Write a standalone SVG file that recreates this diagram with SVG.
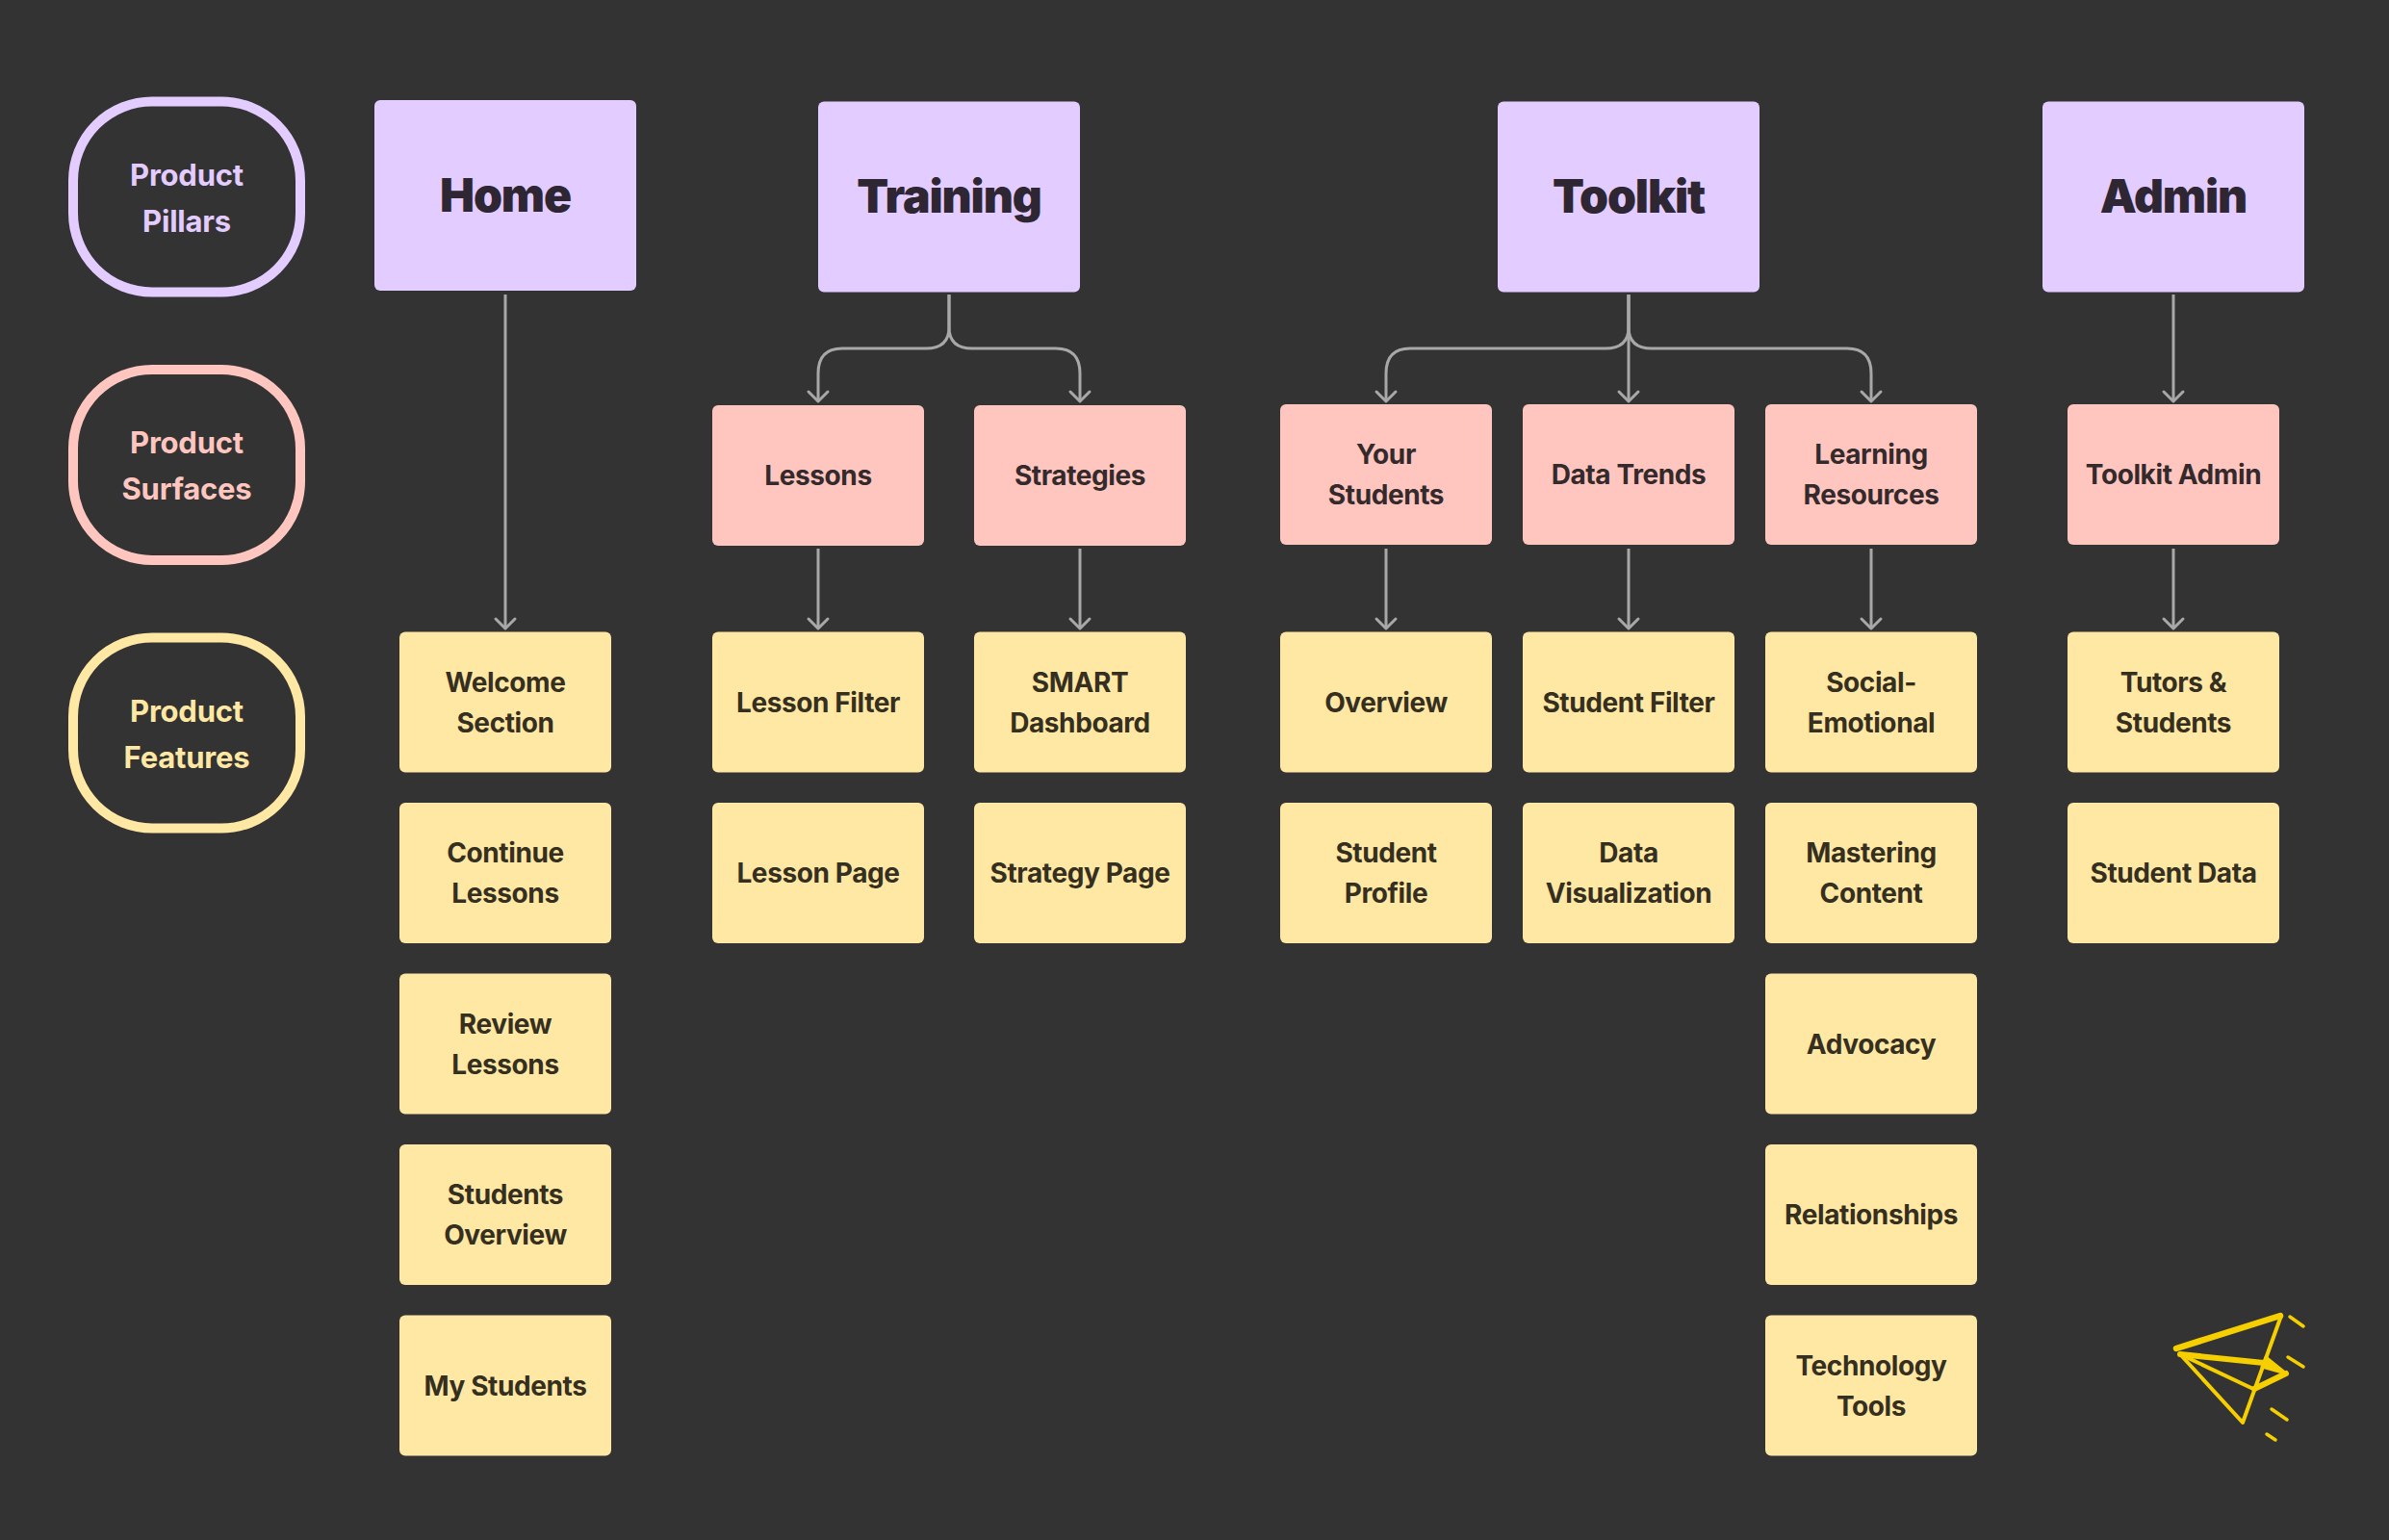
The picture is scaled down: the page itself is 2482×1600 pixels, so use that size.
<svg xmlns="http://www.w3.org/2000/svg" width="2482" height="1600" viewBox="0 0 2482 1600">
<style>
text{font-family:"Inter","Liberation Sans",sans-serif;text-anchor:middle;font-weight:650}
.t{font-size:28px;letter-spacing:-.4px}
.h{font-size:48px;font-weight:900;letter-spacing:-1.1px;fill:#2e2733}
.py{fill:#e3ccff}.pk{fill:#ffc6c0}.ye{fill:#ffe8a3}
.pill{fill:none;stroke-width:10}
.lg{font-size:31px;letter-spacing:-.2px}
.tk{fill:#352a2b}.ty{fill:#352f1f}
.c{fill:none;stroke:#a8a8a8;stroke-width:3;marker-end:url(#a)}
.pl{fill:none;stroke:#f5cf00;stroke-linecap:round;stroke-linejoin:round}
</style>
<defs>
<marker id="a" markerUnits="userSpaceOnUse" markerWidth="16" markerHeight="26" refX="13" refY="13" orient="auto" viewBox="0 0 16 26"><path d="M3 3L13 13L3 23" fill="none" stroke="#a8a8a8" stroke-width="3" stroke-linecap="round" stroke-linejoin="round"/></marker>
</defs>
<rect width="2482" height="1600" fill="#333333"/>
<g id="connectors">
<path class="c" d="M525 306V653"/>
<path class="c" d="M986 306V340Q986 362 962 362H875Q850 362 850 388V417"/>
<path class="c" d="M986 306V340Q986 362 1010 362H1097Q1122 362 1122 388V417"/>
<path class="c" d="M1692 306V340Q1692 362 1668 362H1465Q1440 362 1440 388V417"/>
<path class="c" d="M1692 306V417"/>
<path class="c" d="M1692 306V340Q1692 362 1716 362H1919Q1944 362 1944 388V417"/>
<path class="c" d="M2258 306V417"/>
<path class="c" d="M850 570V653"/>
<path class="c" d="M1122 570V653"/>
<path class="c" d="M1440 570V653"/>
<path class="c" d="M1692 570V653"/>
<path class="c" d="M1944 570V653"/>
<path class="c" d="M2258 570V653"/>
</g>
<g id="legend-pillars"><rect class="pill" x="76" y="105.5" width="236" height="198" rx="82" stroke="#e3ccff"/><text class="lg py" x="194" y="193">Product</text><text class="lg py" x="194" y="241">Pillars</text></g>
<g id="legend-surfaces"><rect class="pill" x="76" y="384" width="236" height="198" rx="82" stroke="#ffc6c0"/><text class="lg pk" x="194" y="471">Product</text><text class="lg pk" x="194" y="519">Surfaces</text></g>
<g id="legend-features"><rect class="pill" x="76" y="662.5" width="236" height="198" rx="82" stroke="#ffe8a3"/><text class="lg ye" x="194" y="750">Product</text><text class="lg ye" x="194" y="798">Features</text></g>

<g id="home"><rect class="py" x="389" y="104" width="272" height="198" rx="6"/><text class="h" x="525" y="220">Home</text></g>
<g id="training"><rect class="py" x="850" y="105.5" width="272" height="198" rx="6"/><text class="h" x="986" y="221">Training</text></g>
<g id="toolkit"><rect class="py" x="1556" y="105.5" width="272" height="198" rx="6"/><text class="h" x="1692" y="221">Toolkit</text></g>
<g id="admin"><rect class="py" x="2122" y="105.5" width="272" height="198" rx="6"/><text class="h" x="2258" y="221">Admin</text></g>

<g id="lessons"><rect class="pk" x="740" y="421" width="220" height="146" rx="6"/><text class="t tk" x="850" y="504">Lessons</text></g>
<g id="strategies"><rect class="pk" x="1012" y="421" width="220" height="146" rx="6"/><text class="t tk" x="1122" y="504">Strategies</text></g>
<g id="your-students"><rect class="pk" x="1330" y="420" width="220" height="146" rx="6"/><text class="t tk" x="1440" y="482">Your</text><text class="t tk" x="1440" y="524">Students</text></g>
<g id="data-trends"><rect class="pk" x="1582" y="420" width="220" height="146" rx="6"/><text class="t tk" x="1692" y="503">Data Trends</text></g>
<g id="learning-resources"><rect class="pk" x="1834" y="420" width="220" height="146" rx="6"/><text class="t tk" x="1944" y="482">Learning</text><text class="t tk" x="1944" y="524">Resources</text></g>
<g id="toolkit-admin"><rect class="pk" x="2148" y="420" width="220" height="146" rx="6"/><text class="t tk" x="2258" y="503">Toolkit Admin</text></g>

<g id="welcome"><rect class="ye" x="415" y="656.5" width="220" height="146" rx="6"/><text class="t ty" x="525" y="719">Welcome</text><text class="t ty" x="525" y="761">Section</text></g>
<g id="continue"><rect class="ye" x="415" y="834" width="220" height="146" rx="6"/><text class="t ty" x="525" y="896">Continue</text><text class="t ty" x="525" y="938">Lessons</text></g>
<g id="review"><rect class="ye" x="415" y="1011.5" width="220" height="146" rx="6"/><text class="t ty" x="525" y="1074">Review</text><text class="t ty" x="525" y="1116">Lessons</text></g>
<g id="students-overview"><rect class="ye" x="415" y="1189" width="220" height="146" rx="6"/><text class="t ty" x="525" y="1251">Students</text><text class="t ty" x="525" y="1293">Overview</text></g>
<g id="my-students"><rect class="ye" x="415" y="1366.5" width="220" height="146" rx="6"/><text class="t ty" x="525" y="1450">My Students</text></g>

<g id="lesson-filter"><rect class="ye" x="740" y="656.5" width="220" height="146" rx="6"/><text class="t ty" x="850" y="740">Lesson Filter</text></g>
<g id="lesson-page"><rect class="ye" x="740" y="834" width="220" height="146" rx="6"/><text class="t ty" x="850" y="917">Lesson Page</text></g>
<g id="smart"><rect class="ye" x="1012" y="656.5" width="220" height="146" rx="6"/><text class="t ty" x="1122" y="719">SMART</text><text class="t ty" x="1122" y="761">Dashboard</text></g>
<g id="strategy-page"><rect class="ye" x="1012" y="834" width="220" height="146" rx="6"/><text class="t ty" x="1122" y="917">Strategy Page</text></g>

<g id="overview"><rect class="ye" x="1330" y="656.5" width="220" height="146" rx="6"/><text class="t ty" x="1440" y="740">Overview</text></g>
<g id="student-profile"><rect class="ye" x="1330" y="834" width="220" height="146" rx="6"/><text class="t ty" x="1440" y="896">Student</text><text class="t ty" x="1440" y="938">Profile</text></g>
<g id="student-filter"><rect class="ye" x="1582" y="656.5" width="220" height="146" rx="6"/><text class="t ty" x="1692" y="740">Student Filter</text></g>
<g id="data-viz"><rect class="ye" x="1582" y="834" width="220" height="146" rx="6"/><text class="t ty" x="1692" y="896">Data</text><text class="t ty" x="1692" y="938">Visualization</text></g>

<g id="social"><rect class="ye" x="1834" y="656.5" width="220" height="146" rx="6"/><text class="t ty" x="1944" y="719">Social-</text><text class="t ty" x="1944" y="761">Emotional</text></g>
<g id="mastering"><rect class="ye" x="1834" y="834" width="220" height="146" rx="6"/><text class="t ty" x="1944" y="896">Mastering</text><text class="t ty" x="1944" y="938">Content</text></g>
<g id="advocacy"><rect class="ye" x="1834" y="1011.5" width="220" height="146" rx="6"/><text class="t ty" x="1944" y="1095">Advocacy</text></g>
<g id="relationships"><rect class="ye" x="1834" y="1189" width="220" height="146" rx="6"/><text class="t ty" x="1944" y="1272">Relationships</text></g>
<g id="technology"><rect class="ye" x="1834" y="1366.5" width="220" height="146" rx="6"/><text class="t ty" x="1944" y="1429">Technology</text><text class="t ty" x="1944" y="1471">Tools</text></g>

<g id="tutors"><rect class="ye" x="2148" y="656.5" width="220" height="146" rx="6"/><text class="t ty" x="2258" y="719">Tutors &amp;</text><text class="t ty" x="2258" y="761">Students</text></g>
<g id="student-data"><rect class="ye" x="2148" y="834" width="220" height="146" rx="6"/><text class="t ty" x="2258" y="917">Student Data</text></g>

<g id="plane">
<path class="pl" stroke-width="6.5" d="M2369 1367L2261 1401"/>
<path class="pl" stroke-width="4" d="M2370 1367L2330 1478L2265 1407"/>
<path class="pl" stroke-width="6" d="M2265 1407L2352 1416"/>
<path class="pl" stroke-width="4" d="M2265 1407L2341 1443"/>
<path class="pl" stroke-width="6" d="M2342 1443L2375 1427"/>
<path fill="#f5cf00" stroke="#f5cf00" stroke-width="3" stroke-linejoin="round" d="M2354 1410L2375 1427L2350 1420Z"/>
<path class="pl" stroke-width="3.5" d="M2379 1368L2393 1378M2377 1410L2393 1420M2360 1464L2376 1475M2355 1490L2364 1496"/>
</g>
</svg>
